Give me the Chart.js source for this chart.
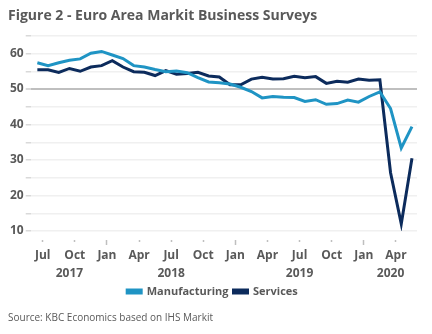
<!DOCTYPE html>
<html>
<head>
<meta charset="utf-8">
<script src="https://cdn.jsdelivr.net/npm/chart.js@4"></script>
<style>
  html, body { margin: 0; padding: 0; background: #fff; }
  #wrap { width: 432px; height: 334px; }
</style>
</head>
<body>
<div id="wrap"><canvas id="chart"></canvas></div>
<script>
// monthly readings, Jun 2017 - May 2020
var dates = [
  '2017-06', '2017-07', '2017-08', '2017-09', '2017-10', '2017-11', '2017-12',
  '2018-01', '2018-02', '2018-03', '2018-04', '2018-05', '2018-06',
  '2018-07', '2018-08', '2018-09', '2018-10', '2018-11', '2018-12',
  '2019-01', '2019-02', '2019-03', '2019-04', '2019-05', '2019-06',
  '2019-07', '2019-08', '2019-09', '2019-10', '2019-11', '2019-12',
  '2020-01', '2020-02', '2020-03', '2020-04', '2020-05'
];
var manufacturing = [
  57.4, 56.6, 57.4, 58.1, 58.5, 60.1, 60.6,
  59.6, 58.6, 56.6, 56.2, 55.5, 54.9,
  55.1, 54.6, 53.2, 52.0, 51.8, 51.4,
  50.5, 49.3, 47.5, 47.9, 47.7, 47.6,
  46.5, 47.0, 45.7, 45.9, 46.9, 46.3,
  47.9, 49.2, 44.5, 33.4, 39.4
];
var services = [
  55.4, 55.4, 54.7, 55.8, 55.0, 56.2, 56.6,
  58.0, 56.2, 54.9, 54.7, 53.8, 55.2,
  54.2, 54.4, 54.7, 53.7, 53.4, 51.2,
  51.2, 52.8, 53.3, 52.8, 52.9, 53.6,
  53.2, 53.5, 51.6, 52.2, 51.9, 52.8,
  52.5, 52.6, 26.4, 12.0, 30.5
];
var monthNames = ['Jan', 'Feb', 'Mar', 'Apr', 'May', 'Jun', 'Jul', 'Aug', 'Sep', 'Oct', 'Nov', 'Dec'];

var grey = '#595959';
var font = 'Open Sans';

function points(values) {
  return values.map(function(v, i) { return { x: i, y: v }; });
}
function monthOf(i) { return parseInt(dates[i].slice(5), 10); }
function yearOf(i) { return dates[i].slice(0, 4); }

new Chart(document.getElementById('chart'), {
  type: 'line',
  data: {
    datasets: [{
      label: 'Manufacturing',
      data: points(manufacturing),
      borderColor: '#1f94c4',
      backgroundColor: '#1f94c4',
      borderWidth: 3,
      pointRadius: 0,
      tension: 0
    }, {
      label: 'Services',
      data: points(services),
      borderColor: '#0c2b5c',
      backgroundColor: '#0c2b5c',
      borderWidth: 3,
      pointRadius: 0,
      tension: 0
    }]
  },
  options: {
    responsive: true,
    maintainAspectRatio: false,
    animation: false,
    layout: { padding: { left: 8, right: 15, top: 0, bottom: 0 } },
    scales: {
      x: {
        type: 'linear',
        position: 'bottom',
        min: -0.62,
        max: 35.47,
        border: { display: false },
        afterBuildTicks: function(axis) {
          var t = [];
          for (var i = 0; i < dates.length; i++) {
            var m = monthOf(i);
            if (m % 3 === 1) t.push({ value: i - 0.5, major: m === 1 });
          }
          axis.ticks = t;
        },
        grid: {
          drawOnChartArea: false,
          tickLength: 14,
          tickColor: '#bfbfbf',
          tickWidth: 1.5,
          tickBorderDash: function(ctx) { return ctx.tick && ctx.tick.major ? [5, 30] : [2, 30]; },
          tickBorderDashOffset: function(ctx) { return ctx.tick && ctx.tick.major ? 26 : 23; }
        },
        ticks: {
          autoSkip: false,
          maxRotation: 0,
          padding: 5,
          color: grey,
          font: { family: font, size: 12, weight: 'bold', lineHeight: 1 },
          callback: function(value) { return monthNames[monthOf(Math.round(value + 0.5)) - 1]; }
        }
      },
      years: {
        type: 'linear',
        position: 'bottom',
        min: -0.62,
        max: 35.47,
        border: { display: false },
        grid: { display: false, drawTicks: false },
        afterBuildTicks: function(axis) {
          var first = {}, last = {}, order = [];
          for (var i = 0; i < dates.length; i++) {
            var y = yearOf(i);
            if (!(y in first)) { first[y] = i; order.push(y); }
            last[y] = i;
          }
          axis.ticks = order.map(function(y) { return { value: (first[y] + last[y]) / 2, year: y }; });
        },
        ticks: {
          autoSkip: false,
          maxRotation: 0,
          padding: 1,
          color: grey,
          font: { family: font, size: 12, weight: 'bold', lineHeight: 1 },
          callback: function(value, index, ticks) { return ticks[index].year; }
        }
      },
      y: {
        min: 10,
        max: 65,
        border: { display: false },
        grid: {
          color: function(ctx) { return ctx.tick && ctx.tick.value === 50 ? '#bfbfbf' : '#f0f0f0'; },
          lineWidth: function(ctx) { return ctx.tick && ctx.tick.value === 50 ? 2 : 1.5; },
          tickColor: '#d9d9d9',
          tickLength: 5
        },
        ticks: {
          stepSize: 5,
          padding: 2,
          color: grey,
          font: { family: font, size: 12, weight: 'bold' },
          callback: function(v) { return (v % 10 === 0 && v <= 60) ? v : ''; }
        }
      }
    },
    plugins: {
      title: {
        display: true,
        text: 'Figure 2 - Euro Area Markit Business Surveys',
        align: 'start',
        color: grey,
        font: { family: font, size: 14, weight: 'bold' },
        padding: { top: 8, bottom: 11 }
      },
      legend: {
        position: 'bottom',
        labels: {
          boxWidth: 14,
          boxHeight: 3,
          padding: 5,
          color: grey,
          font: { family: font, size: 11, weight: 'bold' }
        }
      },
      subtitle: {
        display: true,
        position: 'bottom',
        text: 'Source: KBC Economics based on IHS Markit',
        align: 'start',
        color: grey,
        font: { family: font, size: 10 },
        padding: { top: 5, bottom: 10 }
      },
      tooltip: { enabled: false }
    }
  }
});
</script>
</body>
</html>
